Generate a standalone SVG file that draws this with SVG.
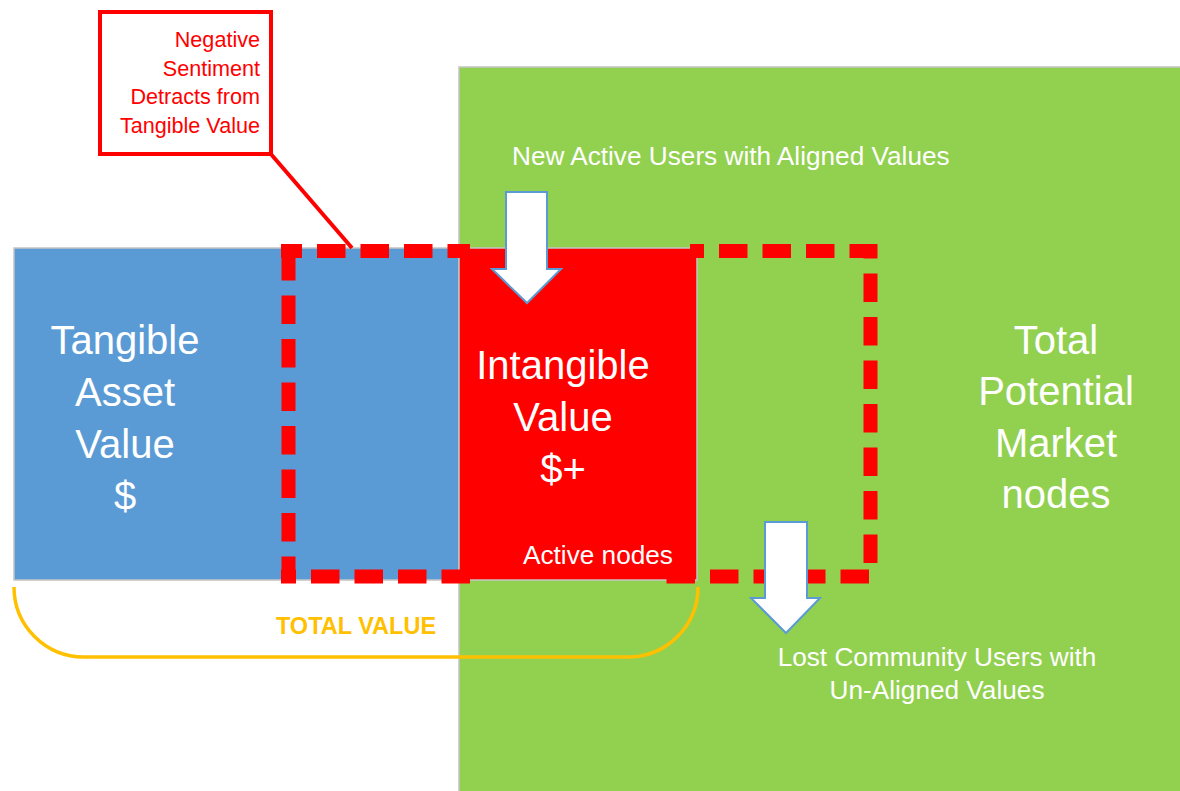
<svg xmlns="http://www.w3.org/2000/svg" width="1180" height="791" viewBox="0 0 1180 791">
<style>
.box{stroke:#c4c4c4;stroke-width:1.5}
.big{font-family:"Liberation Sans",Arial,sans-serif;font-size:40px;fill:#ffffff;text-anchor:middle}
.mid{font-family:"Liberation Sans",Arial,sans-serif;font-size:26.2px;fill:#ffffff}
.call{font-family:"Liberation Sans",Arial,sans-serif;font-size:21.6px;fill:#ff0000;text-anchor:end}
.dash{fill:none;stroke:#ff0000;stroke-width:14;stroke-dasharray:28.5 15;stroke-linejoin:miter}
.arrow{fill:#ffffff;stroke:#5b9bd5;stroke-width:2;stroke-linejoin:miter}
</style>
<rect width="1180" height="791" fill="#ffffff"/>
<g id="market">
<rect class="box" x="459" y="67" width="730" height="730" fill="#92d050"/>
<text class="big" x="1056" y="354">Total</text>
<text class="big" x="1056" y="405">Potential</text>
<text class="big" x="1056" y="457">Market</text>
<text class="big" x="1056" y="508">nodes</text>
</g>
<g id="tangible">
<rect class="box" x="14" y="248" width="445" height="332" fill="#5b9bd5"/>
<text class="big" x="125" y="354">Tangible</text>
<text class="big" x="125" y="406">Asset</text>
<text class="big" x="125" y="458">Value</text>
<text class="big" x="125" y="510">$</text>
</g>
<g id="intangible">
<rect class="box" x="459" y="248" width="238" height="332" fill="#ff0000"/>
<text class="big" x="563" y="379">Intangible</text>
<text class="big" x="563" y="431">Value</text>
<text class="big" x="563" y="483">$+</text>
<text class="mid" x="523" y="564">Active nodes</text>
</g>
<g id="connectors">
<g id="sentiment-zone">
<line class="dash" x1="281" y1="251" x2="470" y2="251" stroke-dashoffset="7.5"/>
<line class="dash" x1="288.5" y1="244" x2="288.5" y2="583" stroke-dashoffset="35.5"/>
<line class="dash" x1="281" y1="576.5" x2="470" y2="576.5" stroke-dashoffset="13.5"/>
</g>
<path id="lost-zone" class="dash" d="M690 251 H870.5 V576.5 H666" stroke-dashoffset="14.5"/>
<path id="total-value-bracket" d="M14 587 A70 70 0 0 0 84 657 H628 A70 70 0 0 0 698 587" fill="none" stroke="#ffc000" stroke-width="3.5"/>
<line id="callout-leader" x1="270" y1="153" x2="352" y2="248" stroke="#ff0000" stroke-width="4"/>
<path id="arrow-new" class="arrow" d="M506 192 H547 V269 H561 L527 303 L492 269 H506 Z"/>
<path id="arrow-lost" class="arrow" d="M765 522 H807 V598 H820 L786 633 L751 598 H765 Z"/>
</g>
<g id="callout">
<rect x="100" y="12" width="171" height="142" fill="#ffffff" stroke="#ff0000" stroke-width="4"/>
<text class="call" x="260" y="47">Negative</text>
<text class="call" x="260" y="76">Sentiment</text>
<text class="call" x="260" y="104">Detracts from</text>
<text class="call" x="260" y="133">Tangible Value</text>
</g>
<g id="labels">
<text class="mid" x="512" y="165">New Active Users with Aligned Values</text>
<text class="mid" x="937" y="666" text-anchor="middle">Lost Community Users with</text>
<text class="mid" x="937" y="699" text-anchor="middle">Un-Aligned Values</text>
<text x="356" y="634" text-anchor="middle" font-family="Liberation Sans, Arial, sans-serif" font-size="23.5" font-weight="bold" fill="#ffc000">TOTAL VALUE</text>
</g>
</svg>
